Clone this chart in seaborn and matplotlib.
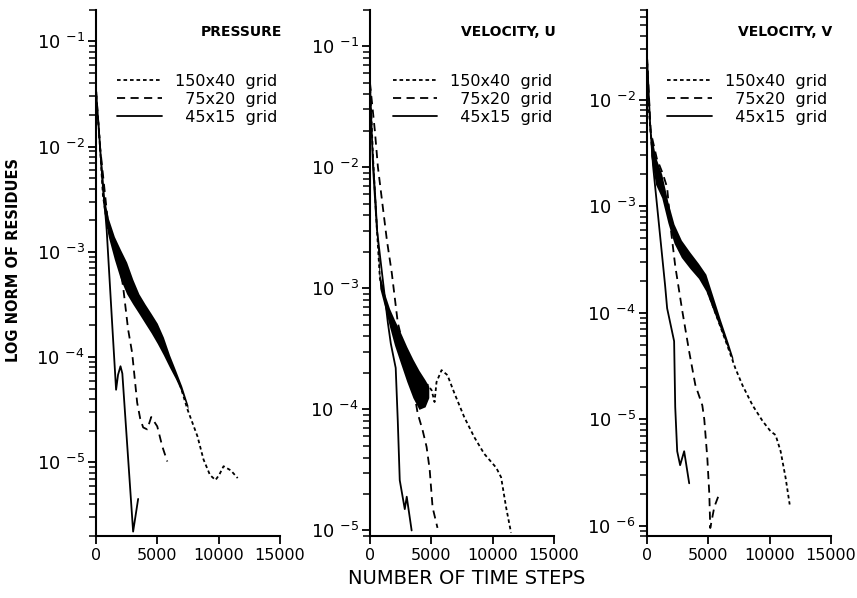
import numpy as np
import matplotlib
matplotlib.use("Agg")
import matplotlib.pyplot as plt
import matplotlib.ticker as mticker
import seaborn as sns

# ---- values (x = time steps, y = residue norm) ----
# PRESSURE
p_150_x = [0, 100, 250, 570, 1000, 1800, 2300, 3000, 4000, 4700, 5300, 6070, 6890,
           7460, 8280, 8770, 9300, 9750, 10050, 10410, 11000, 11560]
p_150_y = [3.5e-2, 2.2e-2, 1.4e-2, 3.4e-3, 1.6e-3, 9.0e-4, 6.8e-4, 4.0e-4, 2.6e-4,
           2.0e-4, 1.5e-4, 9.0e-5, 5.3e-5, 3.2e-5, 1.77e-5, 1.07e-5, 7.6e-6, 6.8e-6,
           7.6e-6, 9.2e-6, 8.4e-6, 7.1e-6]
p_75_x = [0, 330, 1000, 1500, 2000, 2210, 2620, 2950, 3360, 3610, 3850, 4180, 4510,
          5000, 5410, 5820]
p_75_y = [3.5e-2, 1.0e-2, 1.8e-3, 1.1e-3, 6.8e-4, 4.7e-4, 1.84e-4, 1.1e-4, 3.7e-5,
          2.6e-5, 2.15e-5, 2.06e-5, 2.7e-5, 2.2e-5, 1.42e-5, 1.02e-5]
p_45_x = [0, 330, 875, 1340, 1640, 1800, 2000, 2150, 3030, 3440]
p_45_y = [3.5e-2, 1.0e-2, 1.6e-3, 1.9e-4, 4.9e-5, 6.8e-5, 8.2e-5, 7.0e-5, 2.2e-6, 4.5e-6]
# noisy band of the 150x40 run
p_band_x = [200, 400, 600, 1000, 1500, 2000, 2500, 3000, 3500, 4000, 4500, 5000, 5500,
            6000, 6500, 7000, 7500]
p_band_lo = [1.2e-2, 5.0e-3, 2.6e-3, 1.4e-3, 8.5e-4, 5.5e-4, 4.0e-4, 3.2e-4, 2.6e-4,
             2.1e-4, 1.7e-4, 1.35e-4, 1.05e-4, 8.0e-5, 6.2e-5, 4.6e-5, 3.2e-5]
p_band_hi = [1.8e-2, 7.5e-3, 3.6e-3, 2.1e-3, 1.4e-3, 1.05e-3, 8.0e-4, 5.5e-4, 4.0e-4,
             3.2e-4, 2.6e-4, 2.1e-4, 1.55e-4, 1.05e-4, 7.5e-5, 5.3e-5, 3.5e-5]

# VELOCITY, U
u_150_x = [0, 250, 500, 810, 1620, 2430, 3240, 4050, 4700, 5030, 5270, 5430, 5840,
           6320, 6890, 7700, 8510, 9320, 10300, 10700, 11110, 11510]
u_150_y = [5e-2, 1.2e-2, 4e-3, 1.2e-3, 5.5e-4, 3.1e-4, 1.9e-4, 1.4e-4, 1.6e-4,
           1.44e-4, 1.15e-4, 1.68e-4, 2.11e-4, 1.92e-4, 1.36e-4, 8.6e-5, 5.9e-5,
           4.3e-5, 3.3e-5, 2.75e-5, 1.55e-5, 9.6e-6]
u_75_x = [0, 400, 650, 1380, 1780, 2270, 3000, 3500, 3890, 4300, 4620, 4870, 5110, 5510]
u_75_y = [5e-2, 2e-2, 1e-2, 2.5e-3, 1.34e-3, 5.2e-4, 2.6e-4, 1.6e-4, 9.3e-5, 6.7e-5,
          4.9e-5, 3.2e-5, 1.55e-5, 1.05e-5]
u_45_x = [0, 250, 570, 1050, 1460, 1700, 2100, 2270, 2430, 2840, 3000, 3400]
u_45_y = [5e-2, 1e-2, 3.05e-3, 1.17e-3, 5.2e-4, 3.5e-4, 2.2e-4, 8e-5, 2.6e-5, 1.5e-5,
          1.9e-5, 1.0e-5]
u_band_x = [200, 500, 800, 1200, 1600, 2000, 2500, 3000, 3500, 4000, 4500, 4800]
u_band_lo = [1.1e-2, 3.5e-3, 1.0e-3, 7.0e-4, 4.8e-4, 3.4e-4, 2.4e-4, 1.7e-4, 1.25e-4,
             1.0e-4, 1.05e-4, 1.25e-4]
u_band_hi = [1.5e-2, 5.0e-3, 1.3e-3, 9.0e-4, 6.8e-4, 5.5e-4, 4.3e-4, 3.3e-4, 2.6e-4,
             2.1e-4, 1.75e-4, 1.55e-4]

# VELOCITY, V
v_150_x = [0, 150, 400, 1000, 1800, 2500, 3500, 4500, 5500, 6500, 7210, 7790, 8610,
           9430, 10080, 10490, 10900, 11310, 11640]
v_150_y = [2.5e-2, 8e-3, 3.5e-3, 1.7e-3, 8.0e-4, 5.0e-4, 3.1e-4, 2.2e-4, 1.05e-4,
           5.1e-5, 3.0e-5, 2.08e-5, 1.35e-5, 9.6e-6, 7.7e-6, 7.1e-6, 5.0e-6, 2.8e-6,
           1.58e-6]
v_75_x = [0, 300, 800, 1300, 1640, 1970, 2300, 2870, 3440, 3940, 4510, 4670, 4920,
          5080, 5160, 5490, 5900]
v_75_y = [2.5e-2, 5e-3, 2.8e-3, 2.0e-3, 1.5e-3, 5.7e-4, 2.75e-4, 1.05e-4, 4.3e-5,
          2.1e-5, 1.35e-5, 1.0e-5, 4.3e-6, 2.0e-6, 9.5e-7, 1.5e-6, 2.0e-6]
v_45_x = [0, 250, 490, 1475, 1640, 2210, 2300, 2460, 2700, 3030, 3440]
v_45_y = [2.5e-2, 6e-3, 2.4e-3, 1.8e-4, 1.1e-4, 5.4e-5, 1.3e-5, 5.0e-6, 3.7e-6,
          5.0e-6, 2.5e-6]
v_band_x = [300, 700, 1200, 1700, 2200, 2800, 3500, 4200, 4800, 5400, 6000, 6600, 7000]
v_band_lo = [3e-3, 1.6e-3, 1.2e-3, 7.0e-4, 4.5e-4, 3.3e-4, 2.6e-4, 2.1e-4, 1.6e-4,
             1.05e-4, 7.0e-5, 4.6e-5, 3.5e-5]
v_band_hi = [5e-3, 2.9e-3, 2.0e-3, 1.1e-3, 6.8e-4, 4.8e-4, 3.7e-4, 2.9e-4, 2.3e-4,
             1.4e-4, 8.5e-5, 5.3e-5, 3.8e-5]

titles = ["PRESSURE", "VELOCITY, U", "VELOCITY, V"]
grid_labels = ["150x40  grid", "  75x20  grid", "  45x15  grid"]
y_limits = [(2e-6, 0.2), (9e-6, 0.2), (8e-7, 7e-2)]
x_ticks = [0, 5000, 10000, 15000]

panels = [
    (p_150_x, p_150_y, p_75_x, p_75_y, p_45_x, p_45_y, p_band_x, p_band_lo, p_band_hi),
    (u_150_x, u_150_y, u_75_x, u_75_y, u_45_x, u_45_y, u_band_x, u_band_lo, u_band_hi),
    (v_150_x, v_150_y, v_75_x, v_75_y, v_45_x, v_45_y, v_band_x, v_band_lo, v_band_hi),
]

sns.set_style("ticks", rc={"axes.edgecolor": "black", "text.color": "black",
                           "axes.labelcolor": "black", "xtick.color": "black",
                           "ytick.color": "black"})
plt.rcParams["font.family"] = ["DejaVu Sans"]

fig = plt.figure(figsize=(8.57, 5.98), dpi=100)
ax_lefts = [0.112, 0.4317, 0.755]
legend_x = [0.115, 0.124, 0.109]

styles = [(0, (2.0, 1.6)), (0, (4.5, 3.0)), "-"]


def decade_label(v, pos):
    return "10 $^{%d}$" % int(round(np.log10(v)))


for i, data in enumerate(panels):
    ax = fig.add_axes([ax_lefts[i], 0.1037, 0.2145, 0.880])
    x150, y150, x75, y75, x45, y45, bx, blo, bhi = data

    # the 150x40 run oscillates early on: drawn as a solid black band
    ax.fill_between(bx, blo, bhi, color="black", linewidth=0)
    for (xs, ys), ls, lab in zip([(x150, y150), (x75, y75), (x45, y45)], styles, grid_labels):
        sns.lineplot(x=xs, y=ys, ax=ax, color="black", linewidth=1.3,
                     linestyle=ls, sort=False, estimator=None, label=lab)

    ax.set_yscale("log")
    ax.set_xlim(0, 15000)
    ax.set_ylim(*y_limits[i])
    ax.set_xticks(x_ticks)
    ax.yaxis.set_major_locator(mticker.LogLocator(base=10, numticks=20))
    ax.yaxis.set_minor_locator(mticker.LogLocator(base=10, subs=np.arange(2, 10), numticks=20))
    ax.yaxis.set_major_formatter(mticker.FuncFormatter(decade_label))
    ax.yaxis.set_minor_formatter(mticker.NullFormatter())
    ax.tick_params(axis="y", which="major", length=6, width=1.3, labelsize=13, pad=2)
    ax.tick_params(axis="y", which="minor", length=5, width=1.1)
    ax.tick_params(axis="x", which="major", length=6, width=1.3, labelsize=11.5, pad=3)
    ax.set_xlabel("")
    ax.set_ylabel("")
    sns.despine(ax=ax)
    for s in ["left", "bottom"]:
        ax.spines[s].set_linewidth(1.5)

    ax.text(1.01, 0.958, titles[i], transform=ax.transAxes, ha="right", va="center",
            fontsize=10, fontweight="bold")
    ax.legend(loc="upper left", bbox_to_anchor=(legend_x[i], 0.878), frameon=False,
              fontsize=11.5, handlelength=2.8, handletextpad=0.8, labelspacing=0.18,
              borderaxespad=0, borderpad=0)

fig.text(0.016, 0.565, "LOG NORM OF RESIDUES", rotation=90, ha="center", va="center",
         fontsize=10.5, fontweight="bold")
fig.text(0.545, 0.033, "NUMBER OF TIME STEPS", ha="center", va="center", fontsize=14)

fig.savefig("out.png", dpi=100)
